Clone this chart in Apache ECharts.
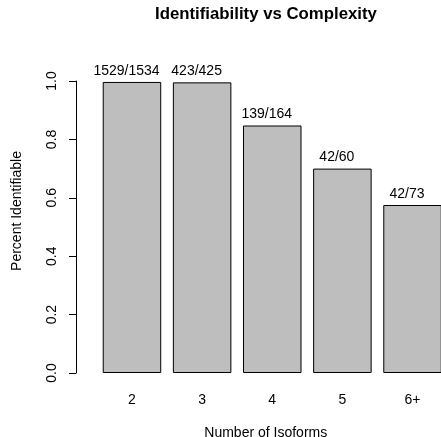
<!DOCTYPE html>
<html>
<head>
<meta charset="utf-8">
<script src="https://cdn.jsdelivr.net/npm/echarts@6/dist/echarts.min.js"></script>
<style>
  html, body { margin: 0; padding: 0; background: #ffffff; }
  #chart { width: 441px; height: 437px; }
</style>
</head>
<body>
<div id="chart"></div>
<script>
// ---- data ----
var categories = ['2', '3', '4', '5', '6+'];
var values = [0.9967, 0.9953, 0.8476, 0.7000, 0.5753];
var barLabels = ['1529/1534', '423/425', '139/164', '42/60', '42/73'];
var yMin = 0, yMax = 1, yInterval = 0.2;

var FONT = "'Liberation Sans', Arial, Helvetica, sans-serif";
var chart = echarts.init(document.getElementById('chart'), null, { renderer: 'canvas' });

chart.setOption({
  animation: false,
  backgroundColor: '#ffffff',
  title: {
    text: 'Identifiability vs Complexity',
    left: 155,
    top: 6,
    padding: 0,
    textStyle: { fontFamily: FONT, fontSize: 16.8, fontWeight: 'bold', color: '#000000' }
  },
  grid: { left: 96.9, right: -6.6, top: 81, bottom: 64, containLabel: false, outerBoundsMode: 'none' },
  xAxis: {
    type: 'category',
    data: categories,
    axisLine: { show: false },
    axisTick: { show: false },
    axisLabel: { margin: 20, fontFamily: FONT, fontSize: 14, color: '#000000' },
    name: 'Number of Isoforms',
    nameLocation: 'middle',
    nameGap: 53,
    nameTextStyle: { fontFamily: FONT, fontSize: 14, color: '#000000', padding: [0, 13, 0, 0] },
    splitLine: { show: false }
  },
  yAxis: {
    type: 'value',
    min: yMin,
    max: yMax,
    interval: yInterval,
    offset: 20.9,
    axisLine: { show: true, lineStyle: { color: '#000000', width: 1 } },
    axisTick: { show: true, inside: false, length: 7, lineStyle: { color: '#000000', width: 1 } },
    axisLabel: {
      rotate: 90,
      margin: 17,
      fontFamily: FONT,
      fontSize: 14,
      color: '#000000',
      formatter: function (v) { return v.toFixed(1); }
    },
    splitLine: { show: false },
    name: 'Percent Identifiable',
    nameLocation: 'middle',
    nameGap: 52,
    nameTextStyle: { fontFamily: FONT, fontSize: 14, color: '#000000', padding: [0, 0, 0, 32] }
  },
  series: [{
    type: 'bar',
    data: values,
    barWidth: 58.5,
    itemStyle: { color: '#bebebe', borderColor: '#000000', borderWidth: 1 },
    label: {
      show: true,
      position: 'top',
      distance: 4,
      offset: [-5.5, 0],
      fontFamily: FONT,
      fontSize: 14,
      color: '#000000',
      formatter: function (p) { return barLabels[p.dataIndex]; }
    }
  }]
});
</script>
</body>
</html>
